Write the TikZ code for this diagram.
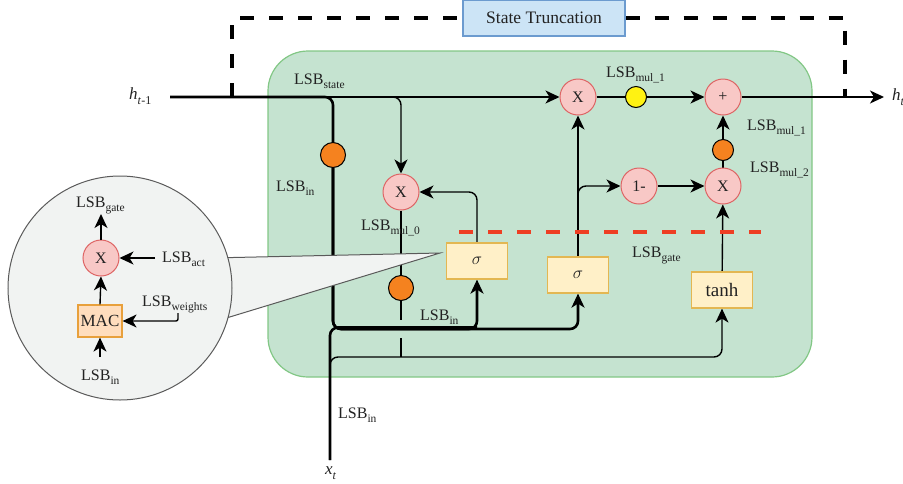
\documentclass[tikz,border=0pt]{standalone}
\usepackage{fontspec}
\setmainfont{Liberation Serif}
\usetikzlibrary{arrows.meta}
\pgfdeclarelayer{bg}
\pgfdeclarelayer{lines}
\pgfdeclarelayer{wedge}
\pgfsetlayers{bg,lines,wedge,main}
\definecolor{cellfill}{HTML}{C5E3D0}
\definecolor{celledge}{HTML}{82C785}
\definecolor{stfill}{HTML}{CCE4F6}
\definecolor{stedge}{HTML}{6C9BCF}
\definecolor{oppink}{HTML}{F8C8C6}
\definecolor{opedge}{HTML}{DE6464}
\definecolor{actfill}{HTML}{FFF0C8}
\definecolor{actedge}{HTML}{E3B752}
\definecolor{macfill}{HTML}{FFDDBD}
\definecolor{macedge}{HTML}{E8A03C}
\definecolor{dotorange}{HTML}{F5821F}
\definecolor{dotyellow}{HTML}{FFF212}
\definecolor{reddash}{HTML}{EE3E23}
\definecolor{zoomfill}{HTML}{F1F3F2}
\definecolor{zoomedge}{HTML}{5A5A5A}
\definecolor{ink}{HTML}{222222}
\newcommand\LSB[1]{LSB\raisebox{-4.5pt}{\fontsize{11.5}{12}\selectfont #1}}
\begin{document}
\begin{tikzpicture}[x=1pt,y=-1pt,
  font=\fontsize{16}{18}\selectfont, text=ink,
  opnode/.style={circle, draw=opedge, fill=oppink, minimum size=36pt, inner sep=0pt, line width=1pt},
  dotor/.style={circle, draw=black, fill=dotorange, minimum size=25pt, inner sep=0pt, line width=1pt},
  dotyl/.style={circle, draw=black, fill=dotyellow, minimum size=21pt, inner sep=0pt, line width=1pt},
  actbox/.style={rectangle, draw=actedge, fill=actfill, minimum width=61pt, minimum height=36pt, inner sep=0pt, line width=1.2pt},
  macbox/.style={rectangle, draw=macedge, fill=macfill, minimum width=44pt, minimum height=32pt, inner sep=0pt, line width=1.2pt, font=\fontsize{17}{18}\selectfont},
  lbl/.style={inner sep=0pt, anchor=base west},
  wire/.style={draw=black, line width=1.4pt, rounded corners=8pt},
  heavy/.style={draw=black, line width=2.6pt, rounded corners=8pt},
  arr/.style={-{Stealth[length=14pt,width=13pt,inset=4pt]}},
  tdash/.style={draw=black, line width=4.5pt, dash pattern=on 14pt off 15pt},
  rdash/.style={draw=reddash, line width=4pt, dash pattern=on 14pt off 15pt}]
\useasboundingbox (0,0) rectangle (903,483);

% cell background
\begin{pgfonlayer}{bg}
\draw[fill=cellfill, draw=celledge, line width=1.2pt, rounded corners=40pt] (268,51) rectangle (812,377);
\end{pgfonlayer}

% main nodes
\node[opnode] (x1) at (578,97) {X};
\node[dotyl] (yl) at (636,97) {};
\node[opnode] (plus) at (723,97) {+};
\node[opnode] (om) at (639,186) {1-};
\node[opnode] (x2) at (723,186) {X};
\node[dotor, minimum size=21pt] (o3) at (723,150) {};
\node[opnode] (x0) at (401,192) {X};
\node[dotor] (o1) at (333,155) {};
\node[dotor] (o2) at (401,288) {};
\node[actbox] (s1) at (477,261) {$\sigma$};
\node[actbox] (s2) at (578,275) {$\sigma$};
\node[actbox, font=\fontsize{19}{20}\selectfont] (th) at (722,290) {tanh};
\node[rectangle, draw=stedge, fill=stfill, line width=1.2pt, minimum width=162pt, minimum height=36pt, font=\fontsize{17.5}{19}\selectfont] (st) at (544,18) {State Truncation};

% labels
\node[lbl, font=\fontsize{17}{18}\selectfont] (hlbl) at (129,99) {\textit{h}\raisebox{-5pt}{\fontsize{12}{12}\selectfont\textit{t}-1}};
\node[lbl, font=\fontsize{17}{18}\selectfont] (htl) at (892,100) {\textit{h}\raisebox{-5pt}{\fontsize{12}{12}\selectfont\textit{t}}};
\node[lbl, font=\fontsize{17}{18}\selectfont] (xtl) at (325,474) {\textit{x}\raisebox{-5pt}{\fontsize{12}{12}\selectfont\textit{t}}};
\node[lbl] (lstate) at (294,84) {\LSB{state}};
\node[lbl] (lin1) at (276,191) {\LSB{in}};
\node[lbl] (lmul0) at (361,230) {\LSB{mul\_0}};
\node[lbl] (lmul1a) at (606,77) {\LSB{mul\_1}};
\node[lbl] (lmul1b) at (747,130) {\LSB{mul\_1}};
\node[lbl] (lmul2) at (750,172) {\LSB{mul\_2}};
\node[lbl] (lgate) at (632,257) {\LSB{gate}};
\node[lbl] (lin2) at (420,320) {\LSB{in}};
\node[lbl] (lin3) at (338,418) {\LSB{in}};

% free ends
\coordinate (hin) at (170,97);
\coordinate (hout) at (884,97);
\coordinate (xin) at (330,460);
\coordinate (busA) at (0,329);
\coordinate (busB) at (0,357);
\coordinate (d1) at (401,320);
\coordinate (d2) at (401,338);
\coordinate (dl) at (232,97);
\coordinate (dr) at (845,97);
\coordinate (rl) at (459,232);
\coordinate (rr) at (761,232);

\begin{pgfonlayer}{lines}
% state truncation loop
\draw[tdash] (dl) |- (st.west);
\draw[tdash] (st.east) -| (dr);
% h_{t-1} input
\draw[wire, arr] (hin) -- (x1.west);
\draw[wire, arr] (hin) -| (x0.north);
\draw[heavy] (hin) -| (o1.north);
\draw[heavy, arr] (o1.south) |- (busA -| s1) -- (s1.south);
\draw[heavy, arr] (o1.south) |- (busA -| s2) -- (s2.south);
% x_t input
\draw[heavy] (xin) |- ([yshift=1.5pt]busA -| s1);
\draw[wire, arr] (xin) |- (busB -| th) -- (th.south);
% gates
\draw[wire, arr] (s1.north) |- (x0.east);
\draw[wire, arr] (s2.north) -- (x1.south);
\draw[wire, arr] (s2.north) |- (om.west);
\draw[wire, arr] (om) -- (x2);
\draw[wire, arr] (th) -- (x2);
\draw[wire] (x2) -- (o3);
\draw[wire, arr] (o3) -- (plus);
\draw[wire] (x1) -- (yl);
\draw[wire, arr] (yl) -- (plus);
\draw[wire, arr] (plus) -- (hout);
% mul_0 path
\draw[wire] (x0) -- (o2);
\draw[wire] (o2) -- (d1);
\draw[wire] (d2) -- (d2 |- busB);
% gate boundary
\draw[rdash] (rl) -- (rr);
\end{pgfonlayer}

% callout wedge
\begin{pgfonlayer}{wedge}
\fill[zoomfill] (210,258) -- (440,253) -- (210,323) -- cycle;
\draw[zoomedge, line width=1pt] (210,258) -- (440,253) -- (210,323);
\end{pgfonlayer}

% zoom circle
\node[circle, draw=zoomedge, fill=zoomfill, line width=1pt, minimum size=224pt, inner sep=0pt] (zc) at (120,288) {};
\node[opnode] (zx) at (101,258) {X};
\node[macbox] (mac) at (100,321) {MAC};
\node[lbl] (zgate) at (76,207) {\LSB{gate}};
\node[lbl] (zact) at (162,262) {\LSB{act}};
\node[lbl] (zw) at (142,306) {\LSB{weights}};
\node[lbl] (zin) at (81,380) {\LSB{in}};
\coordinate (zgo) at (101,214);
\coordinate (zai) at (155,258);
\coordinate (zwi) at (178,313);
\coordinate (zii) at (100,357);
\draw[wire, arr] (zx.north) -- (zgo);
\draw[wire, arr] (zai) -- (zx.east);
\draw[wire, arr] (mac.north) -- (zx.south);
\draw[wire, arr, rounded corners=2pt] (zwi) |- (mac.east);
\draw[wire, arr] (zii) -- (mac.south);
\end{tikzpicture}
\end{document}
